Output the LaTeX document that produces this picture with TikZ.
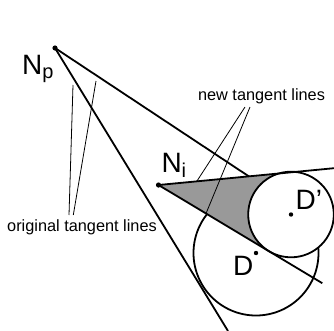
\documentclass[tikz,border=0pt]{standalone}
\usepackage{fontspec}
\setmainfont{Liberation Sans}
\usepackage{tikz}
\usetikzlibrary{arrows.meta}
\definecolor{conegray}{RGB}{153,153,153}
\tikzset{
  tline/.style={line width=1.8pt},
  pointer/.style={line width=0.8pt},
  bigtxt/.style={font=\fontsize{28}{28}\selectfont,inner sep=0pt,anchor=base west},
  smalltxt/.style={font=\fontsize{16.3}{18}\selectfont,inner sep=0pt,anchor=base}
}
\begin{document}
\begin{tikzpicture}[x=1pt,y=-1pt]
\useasboundingbox (0,0) rectangle (334,330);
\clip (0,0) rectangle (334,330);
\coordinate (Np) at (55,48); \coordinate (Ni) at (158.5,185);
\coordinate (D) at (256,253); \coordinate (Dp) at (291,214.5);
\coordinate (NpUp) at (277,195); \coordinate (NpLow) at (228,331);
\coordinate (T1) at (286.8,172.7); \coordinate (T2) at (269,251.2);
\coordinate (NiUp) at (336,168); \coordinate (NiLow) at (322.3,283.2);
\draw[tline] (D) circle (62.5pt);
\draw[tline] (Np) -- (NpUp);
\draw[tline] (Np) -- (NpLow);
\fill[conegray] (Ni) -- (T1) -- (T2) -- cycle;
\filldraw[tline,fill=white] (Dp) circle (42.8pt);
\draw[tline] (Ni) -- (NiUp);
\draw[tline] (Ni) -- (NiLow);
\fill (Np) circle (2.6pt); \fill (Ni) circle (2.6pt);
\fill (D) circle (2.2pt); \fill (Dp) circle (2.2pt);
\node[bigtxt] (labNp) at (22,74.3) {N\raisebox{-4.5pt}{\fontsize{20}{20}\selectfont p}};
\node[bigtxt] (labNi) at (161.3,172.3) {N\raisebox{-5.5pt}{\fontsize{20}{20}\selectfont i}};
\node[bigtxt] (labD) at (233,275) {D};
\node[bigtxt] (labDp) at (295.5,209.3) {D'};
\node[smalltxt] (labNew) at (261.5,100.5) {new tangent lines};
\node[smalltxt] (labOrig) at (82,231) {original tangent lines};
\coordinate (newA) at (245,107); \coordinate (newB) at (250,107);
\coordinate (newEndA) at (197,181); \coordinate (newEndB) at (206,213.5);
\coordinate (origA) at (69,215); \coordinate (origB) at (73.3,215);
\coordinate (origEndA) at (73,85); \coordinate (origEndB) at (96,81);
\draw[pointer] (newA) -- (newEndA);
\draw[pointer] (newB) -- (newEndB);
\draw[pointer] (origA) -- (origEndA);
\draw[pointer] (origB) -- (origEndB);
\end{tikzpicture}
\end{document}
